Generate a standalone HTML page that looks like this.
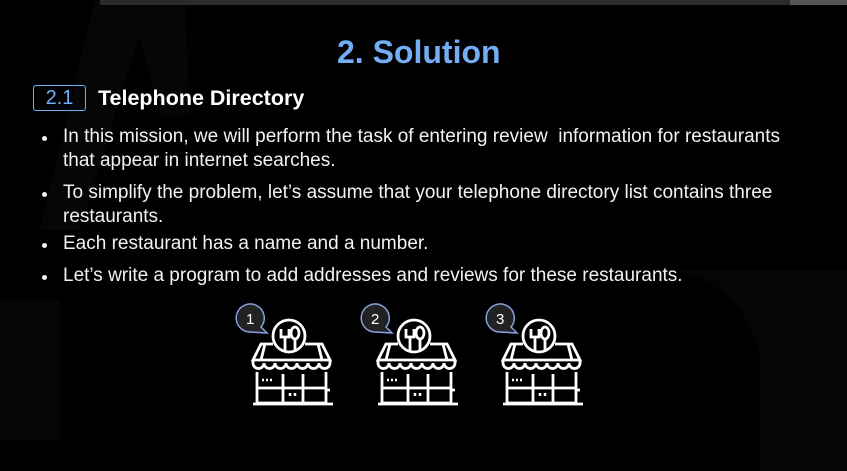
<!DOCTYPE html>
<html><head><meta charset="utf-8"><style>
body{margin:0;width:847px;height:471px;background:#000;overflow:hidden;position:relative;font-family:"Liberation Sans",sans-serif;}
.t{position:absolute;color:#fff;white-space:nowrap;}
.b{position:absolute;left:63px;color:#f2f2f2;font-size:19px;line-height:24px;white-space:nowrap;}
.d{position:absolute;left:42px;width:5px;height:5px;border-radius:50%;background:#f2f2f2;}
</style></head><body>
<svg style="position:absolute;left:0;top:0" width="847" height="471">
<polygon points="95,0 150,0 80,230 40,230" fill="#060606"/>
<polygon points="130,0 185,0 190,115 160,115" fill="#060606"/>
<rect x="0" y="300" width="60" height="140" fill="#050505"/>
<path d="M660,270 A100,100 0 0 1 760,370 L760,471 L847,471 L847,270 Z" fill="#050505"/>
<rect x="100" y="0" width="747" height="5" fill="#2b2b2b"/>
<rect x="790" y="0" width="57" height="5" fill="#555"/>
</svg>
<div class="t" style="left:337px;top:34px;font-size:32px;font-weight:bold;color:#72aef5">2. Solution</div>
<div style="position:absolute;left:33px;top:85px;width:51px;height:24px;border:1.5px solid #72aef5;border-radius:3px;color:#72aef5;font-size:20px;text-align:center;line-height:24px">2.1</div>
<div class="t" style="left:98px;top:86px;font-size:21.5px;font-weight:bold">Telephone Directory</div>
<div class="d" style="top:136px"></div><div class="b" style="top:125px">In this mission, we will perform the task of entering review&nbsp; information for restaurants<br>that appear in internet searches.</div>
<div class="d" style="top:192px"></div><div class="b" style="top:181px">To simplify the problem, let’s assume that your telephone directory list contains three<br>restaurants.</div>
<div class="d" style="top:243px"></div><div class="b" style="top:232px">Each restaurant has a name and a number.</div>
<div class="d" style="top:275px"></div><div class="b" style="top:264px">Let’s write a program to add addresses and reviews for these restaurants.</div>
<svg style="position:absolute;left:0;top:0" width="847" height="471">
<defs><g id="s">
<g fill="none" stroke="#fff" stroke-width="2.8">
<path d="M20,44 H8 L0,60 H77 L69,44 H52 M12,44 L8,60 M65,44 L69,60"/>
<path d="M0,60 v3 a5.5,5.5 0 0 0 11,0 a5.5,5.5 0 0 0 11,0 a5.5,5.5 0 0 0 11,0 a5.5,5.5 0 0 0 11,0 a5.5,5.5 0 0 0 11,0 a5.5,5.5 0 0 0 11,0 a5.5,5.5 0 0 0 11,0 v-3"/>
<circle cx="36" cy="36" r="16" fill="#000"/>
<path d="M28,29 v8 h8 v-8 M32,37 v14"/><ellipse cx="42" cy="33" rx="4" ry="6"/><path d="M42,39 v12"/>
<path d="M4,72 V103 H73 V72 M4,88 H73 M30,74 V103 M50,74 V103 M0,104 H80 M73,90 h4"/>
</g>
<path d="M9,80 h2 M13,80 h2 M17,80 h2 M37,93 v3 M42,93 v3" stroke="#fff" stroke-width="2.5"/>
<g fill="#222" stroke="#8aa0e0" stroke-width="1.5">
<path d="M8,27 A14,14 0 1 0 -3,32 L14,33 Z"/>
</g>
<circle cx="-3" cy="18" r="13" fill="#222"/>
</g></defs>
<g transform="translate(253,300)"><use href="#s"/></g>
<g transform="translate(378,300)"><use href="#s"/></g>
<g transform="translate(503,300)"><use href="#s"/></g>
<g fill="#fff" font-family="Liberation Sans" font-size="15"><text x="246" y="324">1</text><text x="371" y="324">2</text><text x="496" y="324">3</text></g>
</svg>
</body></html>
